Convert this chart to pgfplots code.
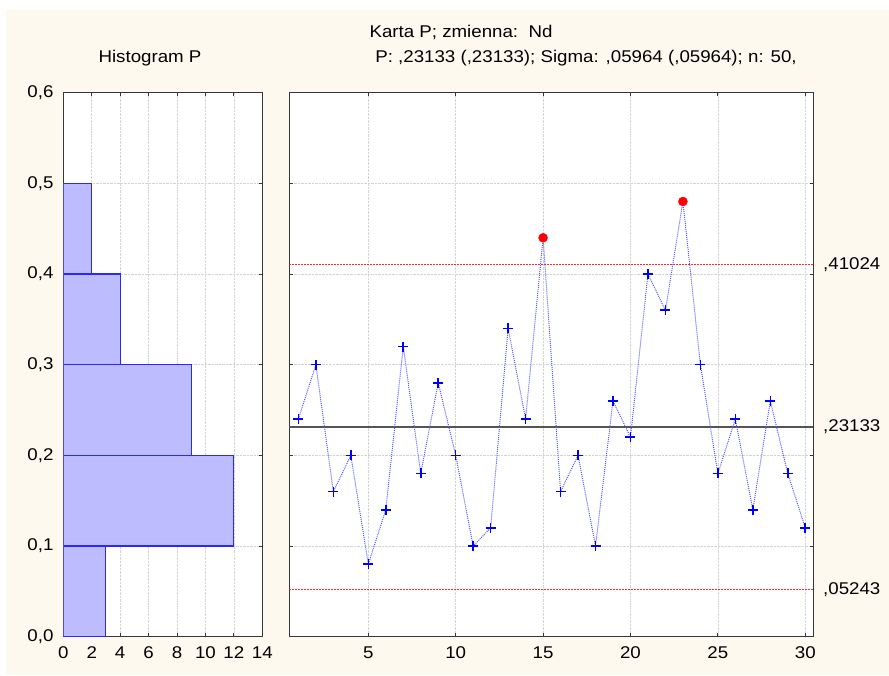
\documentclass[border=0pt]{standalone}
\usepackage{fontspec}
\setmainfont{Liberation Sans}[FakeStretch=1.1]
\usepackage{pgfplots}
\pgfplotsset{compat=1.18}
\definecolor{cream}{RGB}{253,249,238}
\definecolor{barfill}{RGB}{188,188,255}
\definecolor{baredge}{RGB}{40,40,255}
\definecolor{gridc}{RGB}{212,212,212}
\definecolor{axc}{RGB}{55,55,55}
\definecolor{linec}{RGB}{90,90,255}
\definecolor{limc}{RGB}{255,40,40}
\definecolor{centc}{RGB}{85,85,85}

\begin{document}
\fontsize{17}{20}\selectfont
\begin{tikzpicture}
\fill[white] (0pt,0pt) rectangle (889pt,675pt);
\useasboundingbox (0pt,0pt) rectangle (889pt,675pt);
\fill[cream] (6pt,0pt) rectangle (889pt,665pt);

\pgfplotsset{common/.style={
  scale only axis, height=544pt, anchor=south west,
  axis line style={axc, line width=1.2pt},
  tick style={axc, line width=1pt},
  tick align=inside, major tick length=3.5pt,
  grid=major, major grid style={gridc, densely dotted, line width=0.6pt},
  ymin=0, ymax=0.6, ytick={0,0.1,0.2,0.3,0.4,0.5,0.6},
  /pgf/number format/assume math mode=true,
  tick label style={font=\fontsize{17}{20}\selectfont},
  xticklabel style={yshift=-4pt},
  yticklabel style={xshift=-4pt},
  axis background/.style={fill=white},
}}

\begin{axis}[common, at={(63.3pt,38.3pt)}, width=199pt,
  xmin=0, xmax=14, xtick={0,2,...,14},
  yticklabel style={/pgf/number format/.cd, use comma, fixed, fixed zerofill, precision=1},
  xticklabel style={/pgf/number format/.cd, fixed, precision=0},
]
\addplot[xbar interval, fill=barfill, draw=baredge, line width=1.1pt]
  coordinates {(3,0) (12,0.1) (9,0.2) (4,0.3) (2,0.4) (2,0.5)};
\end{axis}

\begin{axis}[common, at={(289.3pt,38.3pt)}, width=524pt,
  xmin=0.48, xmax=30.46, xtick={5,10,15,20,25,30},
  yticklabels={},
  clip=false,
]
\addplot[color=limc, draw=limc, dash pattern=on 1.5pt off 1.5pt, line width=1pt] coordinates {(0.48,0.41024) (30.46,0.41024)};
\addplot[color=limc, draw=limc, dash pattern=on 1.5pt off 1.5pt, line width=1pt] coordinates {(0.48,0.05243) (30.46,0.05243)};
\addplot[color=centc, line width=1.2pt] coordinates {(0.48,0.23133) (30.46,0.23133)};
\addplot[color=linec, dash pattern=on 1pt off 1pt, line width=1pt] coordinates {
(1,0.24) (2,0.30) (3,0.16) (4,0.20) (5,0.08) (6,0.14) (7,0.32) (8,0.18) (9,0.28) (10,0.20)
(11,0.10) (12,0.12) (13,0.34) (14,0.24) (15,0.44) (16,0.16) (17,0.20) (18,0.10) (19,0.26) (20,0.22)
(21,0.40) (22,0.36) (23,0.48) (24,0.30) (25,0.18) (26,0.24) (27,0.14) (28,0.26) (29,0.18) (30,0.12)};
\addplot[color=blue, only marks, mark=+, mark size=5pt, mark options={draw=blue, line width=1.6pt}] coordinates {
(1,0.24) (2,0.30) (3,0.16) (4,0.20) (5,0.08) (6,0.14) (7,0.32) (8,0.18) (9,0.28) (10,0.20)
(11,0.10) (12,0.12) (13,0.34) (14,0.24) (16,0.16) (17,0.20) (18,0.10) (19,0.26) (20,0.22)
(21,0.40) (22,0.36) (24,0.30) (25,0.18) (26,0.24) (27,0.14) (28,0.26) (29,0.18) (30,0.12)};
\addplot[color=red, only marks, mark=*, mark size=4.5pt, mark options={fill=red, draw=red}] coordinates {(15,0.44) (23,0.48)};
\node[anchor=west, xshift=4pt, font=\fontsize{17}{20}\selectfont] at (axis cs:30.46,0.41024) {,41024};
\node[anchor=west, xshift=4pt, font=\fontsize{17}{20}\selectfont] at (axis cs:30.46,0.23133) {,23133};
\node[anchor=west, xshift=4pt, font=\fontsize{17}{20}\selectfont] at (axis cs:30.46,0.05243) {,05243};
\end{axis}

\node at (150pt,617pt) {Histogram P};
\node at (461pt,643pt) {Karta P; zmienna:\ \ Nd};
\node at (586pt,617pt) {P: ,23133 (,23133); Sigma: ,05964 (,05964); n: 50,};
\end{tikzpicture}
\end{document}
